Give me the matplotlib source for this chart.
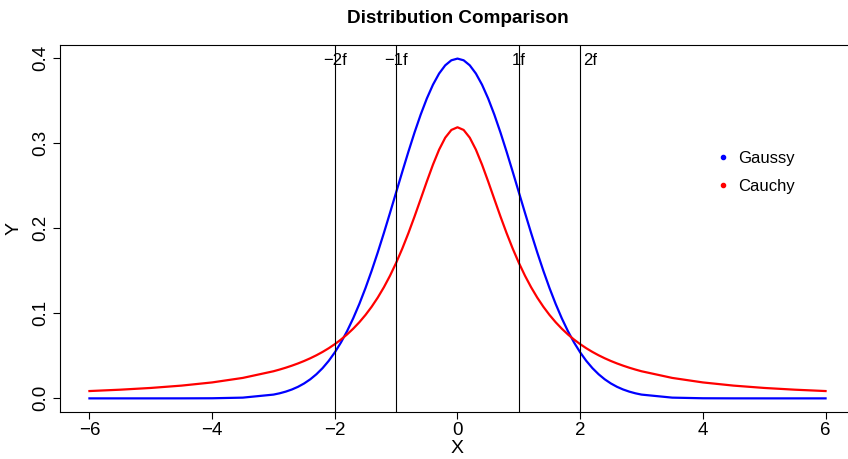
import matplotlib
matplotlib.use("Agg")
import matplotlib.pyplot as plt
from matplotlib.lines import Line2D

plt.rcParams['font.family'] = ['Liberation Sans', 'DejaVu Sans']

x_vals = [-6.0, -5.5, -5.0, -4.5, -4.0, -3.5,
          -3.0, -2.9, -2.8, -2.7, -2.6, -2.5, -2.4, -2.3, -2.2, -2.1,
          -2.0, -1.9, -1.8, -1.7, -1.6, -1.5, -1.4, -1.3, -1.2, -1.1,
          -1.0, -0.9, -0.8, -0.7, -0.6, -0.5, -0.4, -0.3, -0.2, -0.1,
          0.0,
          0.1, 0.2, 0.3, 0.4, 0.5, 0.6, 0.7, 0.8, 0.9, 1.0,
          1.1, 1.2, 1.3, 1.4, 1.5, 1.6, 1.7, 1.8, 1.9, 2.0,
          2.1, 2.2, 2.3, 2.4, 2.5, 2.6, 2.7, 2.8, 2.9, 3.0,
          3.5, 4.0, 4.5, 5.0, 5.5, 6.0]

gauss_vals = [0.0, 0.0, 0.0, 0.00002, 0.00013, 0.00087,
              0.00443, 0.00595, 0.00792, 0.01042, 0.01358, 0.01753, 0.02239, 0.02833, 0.03547, 0.04398,
              0.05399, 0.06562, 0.07895, 0.09405, 0.11092, 0.12952, 0.14973, 0.17137, 0.19419, 0.21785,
              0.24197, 0.26609, 0.28969, 0.31225, 0.33322, 0.35207, 0.36827, 0.38139, 0.39104, 0.39695,
              0.39894,
              0.39695, 0.39104, 0.38139, 0.36827, 0.35207, 0.33322, 0.31225, 0.28969, 0.26609, 0.24197,
              0.21785, 0.19419, 0.17137, 0.14973, 0.12952, 0.11092, 0.09405, 0.07895, 0.06562, 0.05399,
              0.04398, 0.03547, 0.02833, 0.02239, 0.01753, 0.01358, 0.01042, 0.00792, 0.00595, 0.00443,
              0.00087, 0.00013, 0.00002, 0.0, 0.0, 0.0]

cauchy_vals = [0.00860, 0.01019, 0.01224, 0.01498, 0.01872, 0.02402,
               0.03183, 0.03383, 0.03601, 0.03840, 0.04102, 0.04390, 0.04709, 0.05061, 0.05451, 0.05884,
               0.06366, 0.06905, 0.07507, 0.08183, 0.08941, 0.09794, 0.10754, 0.11833, 0.13046, 0.14403,
               0.15915, 0.17586, 0.19409, 0.21363, 0.23405, 0.25465, 0.27441, 0.29203, 0.30607, 0.31516,
               0.31831,
               0.31516, 0.30607, 0.29203, 0.27441, 0.25465, 0.23405, 0.21363, 0.19409, 0.17586, 0.15915,
               0.14403, 0.13046, 0.11833, 0.10754, 0.09794, 0.08941, 0.08183, 0.07507, 0.06905, 0.06366,
               0.05884, 0.05451, 0.05061, 0.04709, 0.04390, 0.04102, 0.03840, 0.03601, 0.03383, 0.03183,
               0.02402, 0.01872, 0.01498, 0.01224, 0.01019, 0.00860]

series_names = ["Gaussy", "Cauchy"]
series_colors = ["blue", "red"]

vline_x = [-2, -1, 1, 2]
vline_labels = ["\u22122f", "\u22121f", "1f", "2f"]
vline_label_x = [-2.0, -1.0, 1.0, 2.17]
vline_label_y = 0.397

xticks = [-6, -4, -2, 0, 2, 4, 6]
yticks = [0.0, 0.1, 0.2, 0.3, 0.4]

W, H = 848, 459
fig = plt.figure(figsize=(W / 100, H / 100), dpi=100)
ax = fig.add_axes([60 / W, 47 / H, 795 / W, 367 / H])

ax.plot(x_vals, gauss_vals, color=series_colors[0], lw=1.6)
ax.plot(x_vals, cauchy_vals, color=series_colors[1], lw=1.6)

for xv in vline_x:
    ax.axvline(xv, color="black", lw=0.8)
for lx, lab in zip(vline_label_x, vline_labels):
    ax.text(lx, vline_label_y, lab, ha="center", va="center", fontsize=12)

ax.set_xlim(-6.48, 6.48)
ax.set_ylim(-0.016, 0.4149)
ax.set_xticks(xticks)
ax.set_xticklabels([("\u2212" if t < 0 else "") + str(abs(t)) for t in xticks])
ax.set_yticks(yticks)
ax.set_yticklabels([f"{t:.1f}" for t in yticks], rotation=90, va="center")
ax.tick_params(direction="out", length=5, width=0.8, labelsize=13.5, pad=3)
ax.tick_params(axis="x", pad=2)
for s in ax.spines.values():
    s.set_linewidth(0.8)

ax.set_xlabel("X", fontsize=14, labelpad=1)
ax.set_ylabel("Y", fontsize=14, labelpad=7)
ax.set_title("Distribution Comparison", fontsize=13.6, fontweight="bold", pad=16)

handles = [Line2D([], [], linestyle="none", marker="o", markersize=3,
                  color=c) for c in series_colors]
ax.legend(handles, series_names, loc="upper left", frameon=False,
          bbox_to_anchor=((718 - 60) / 795, (412 - 151) / 367),
          fontsize=12, handlelength=0.6, handletextpad=0.6,
          labelspacing=0.75, borderpad=0, borderaxespad=0)

fig.savefig("out.png", dpi=100)
